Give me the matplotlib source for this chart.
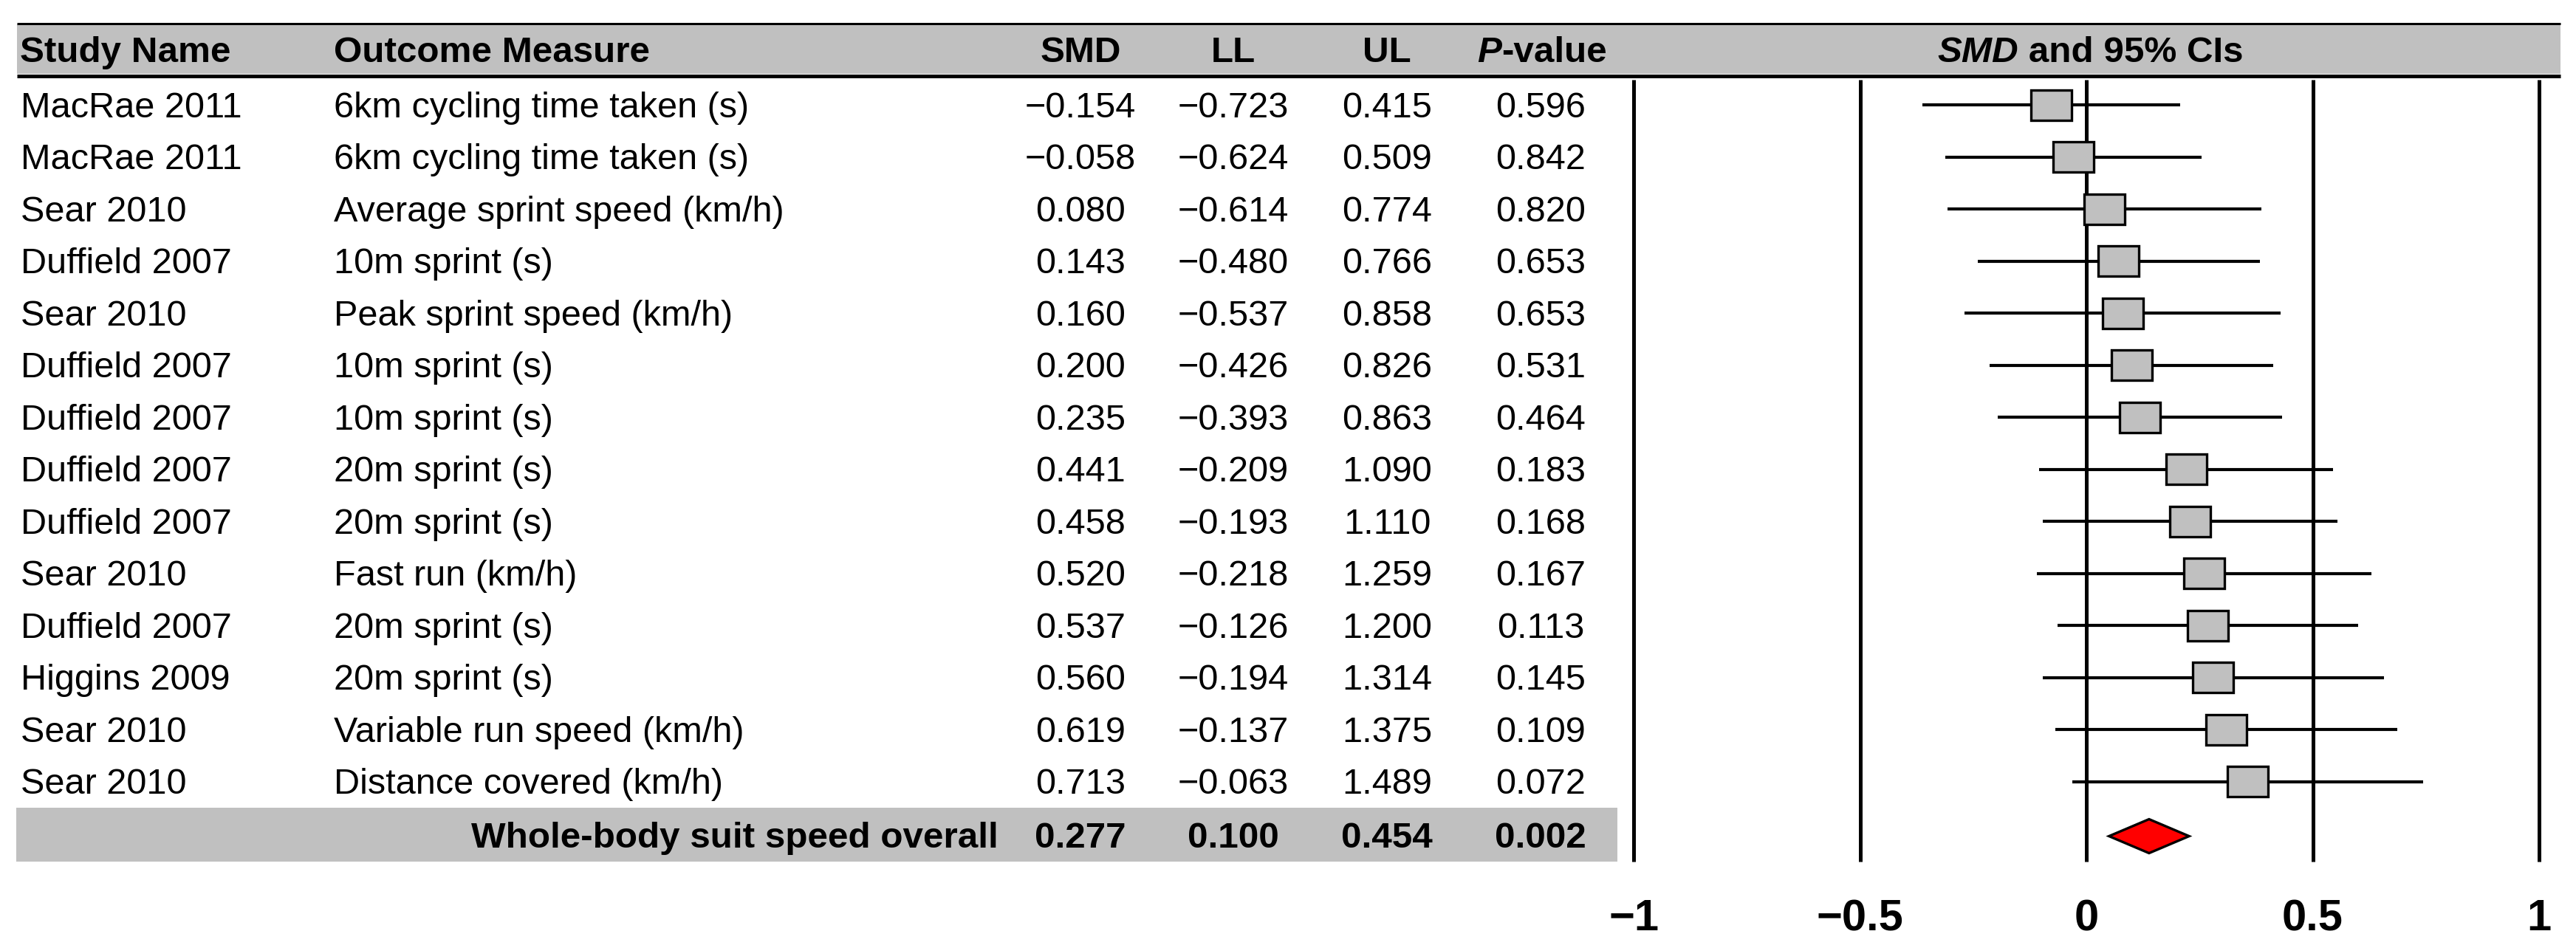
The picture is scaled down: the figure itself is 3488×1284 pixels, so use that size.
import matplotlib.pyplot as plt
from matplotlib.patches import Rectangle, Polygon

plt.rcParams['font.family'] = ['Liberation Sans', 'DejaVu Sans']

# data
study = ['MacRae 2011', 'MacRae 2011', 'Sear 2010', 'Duffield 2007', 'Sear 2010',
         'Duffield 2007', 'Duffield 2007', 'Duffield 2007', 'Duffield 2007', 'Sear 2010',
         'Duffield 2007', 'Higgins 2009', 'Sear 2010', 'Sear 2010']
outcome = ['6km cycling time taken (s)', '6km cycling time taken (s)', 'Average sprint speed (km/h)',
           '10m sprint (s)', 'Peak sprint speed (km/h)', '10m sprint (s)', '10m sprint (s)',
           '20m sprint (s)', '20m sprint (s)', 'Fast run (km/h)', '20m sprint (s)',
           '20m sprint (s)', 'Variable run speed (km/h)', 'Distance covered (km/h)']
smd = [-0.154, -0.058, 0.080, 0.143, 0.160, 0.200, 0.235, 0.441, 0.458, 0.520, 0.537, 0.560, 0.619, 0.713]
ll = [-0.723, -0.624, -0.614, -0.480, -0.537, -0.426, -0.393, -0.209, -0.193, -0.218, -0.126, -0.194, -0.137, -0.063]
ul = [0.415, 0.509, 0.774, 0.766, 0.858, 0.826, 0.863, 1.090, 1.110, 1.259, 1.200, 1.314, 1.375, 1.489]
pval = [0.596, 0.842, 0.820, 0.653, 0.653, 0.531, 0.464, 0.183, 0.168, 0.167, 0.113, 0.145, 0.109, 0.072]

overall_label = 'Whole-body suit speed overall'
overall = [0.277, 0.100, 0.454, 0.002]  # SMD, LL, UL, P

tick_labels = ['-1', '-0.5', '0', '0.5', '1']
# the original forest panel is drawn at half scale: tick "1" sits where SMD = 2
tick_pos = [2 * float(t) for t in tick_labels]

W, H = 3488, 1284
ROW0, ROWH = 142, 70.5
ylim = ((H - ROW0) / ROWH, -ROW0 / ROWH)

GREY = '#c0c0c0'
FS = 35
FSB = 35.6


def fmt(v):
    return f'{v:.3f}'.replace('-', '\u2212')


fig = plt.figure(figsize=(W / 100, H / 100), dpi=100)

tab = fig.add_axes([0, 0, 1, 1])
tab.set_xlim(0, W)
tab.set_ylim(*ylim)
tab.axis('off')

# header band
tab.add_patch(Rectangle((23, -1.546), 3444, 0.95, color=GREY, lw=0))
tab.hlines(-1.567, 23, 3467, color='black', lw=2.2)
tab.hlines(-0.56, 23, 3467, color='black', lw=3.6)

hy = -0.82
tab.text(27, hy, 'Study Name', fontsize=FSB, weight='bold', va='baseline')
tab.text(452, hy, 'Outcome Measure', fontsize=FSB, weight='bold', va='baseline')
for x, h in zip([1463, 1670, 1878], ['SMD', 'LL', 'UL']):
    tab.text(x, hy, h, fontsize=FSB, weight='bold', va='baseline', ha='center')
p = tab.text(2000, hy, 'P', fontsize=FSB, weight='bold', style='italic', va='baseline')
tab.annotate('-value', xy=(1, 0), xycoords=p, fontsize=FSB, weight='bold', va='bottom', ha='left')
s = tab.text(2623, hy, 'SMD', fontsize=FSB, weight='bold', style='italic', va='baseline')
tab.annotate(' and 95% CIs', xy=(1, 0), xycoords=s, fontsize=FSB, weight='bold', va='bottom', ha='left')

# study rows
for i in range(len(study)):
    y = i + 0.24
    tab.text(28, y, study[i], fontsize=FS, va='baseline')
    tab.text(452, y, outcome[i], fontsize=FS, va='baseline')
    for x, v in zip([1463, 1670, 1878, 2086], [smd[i], ll[i], ul[i], pval[i]]):
        tab.text(x, y, fmt(v), fontsize=FS, va='baseline', ha='center')

# overall row
n = len(study)
oy = n + 0.05
tab.add_patch(Rectangle((22, oy - 0.55), 2168, 1.04, color=GREY, lw=0))
tab.text(1352, oy + 0.22, overall_label, fontsize=FSB, weight='bold', va='baseline', ha='right')
for x, v in zip([1463, 1670, 1878, 2086], overall):
    tab.text(x, oy + 0.22, fmt(v), fontsize=FSB, weight='bold', va='baseline', ha='center')

# forest panel
fx0 = 2150
ppu = 306.5
forest = fig.add_axes([fx0 / W, 0, (W - fx0) / W, 1])
forest.set_xlim(-2 - (2212 - fx0) / ppu, 2 + (W - 3438) / ppu)
forest.set_ylim(*ylim)
forest.axis('off')

forest.vlines(tick_pos, -0.48, 14.54, color='black', lw=3.6)
forest.hlines(range(n), ll, ul, color='black', lw=3.0, zorder=3)
bw, bh = 55 / ppu, 41 / ROWH
for i, v in enumerate(smd):
    forest.add_patch(Rectangle((v - bw / 2, i - bh / 2), bw, bh, facecolor=GREY,
                               edgecolor='black', lw=2.4, zorder=4))

dh = 23 / ROWH
forest.add_patch(Polygon([(overall[1], oy), (overall[0], oy - dh), (overall[2], oy), (overall[0], oy + dh)],
                         closed=True, facecolor='red', edgecolor='black', lw=2.4, zorder=4))

for x, t in zip(tick_pos, tick_labels):
    forest.text(x, 15.86, t.replace('-', '\u2212'), fontsize=43, weight='bold', ha='center', va='baseline')

fig.savefig('out.png', dpi=100)
